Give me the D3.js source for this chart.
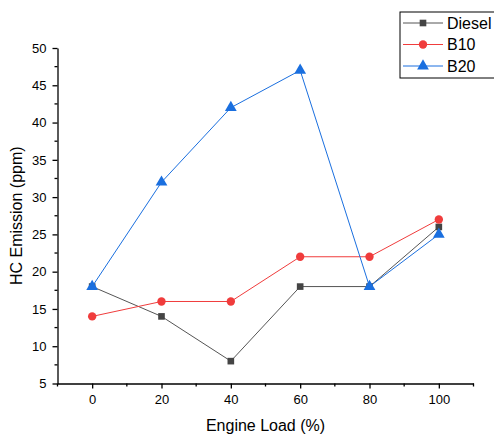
<!DOCTYPE html>
<html><head><meta charset="utf-8">
<script src="https://cdn.jsdelivr.net/npm/d3@7"></script>
<style>body{margin:0;background:#fff;}svg{display:block;font-family:"Liberation Sans",Arial,sans-serif;}</style>
</head><body>
<svg id="c" width="494" height="439"></svg>
<script>
const loads = [0, 20, 40, 60, 80, 100];
const diesel = [18, 14, 8, 18, 18, 26];
const b10 = [14, 16, 16, 22, 22, 27];
const b20 = [18, 32, 42, 47, 18, 25];
const xTicks = [0, 20, 40, 60, 80, 100];
const yTicks = [5, 10, 15, 20, 25, 30, 35, 40, 45, 50];
const seriesNames = ["Diesel", "B10", "B20"];

const svg = d3.select("#c");
const x = d3.scaleLinear().domain([-10, 110]).range([57.5, 473.5]);
const y = d3.scaleLinear().domain([5, 50]).range([383.5, 48]);

// axes
const xAxis = d3.axisBottom(x).tickValues(xTicks).tickSize(5).tickSizeOuter(0).tickPadding(6);
const gx = svg.append("g").attr("transform", `translate(0,${y(5)})`).call(xAxis);
const yAxis = d3.axisLeft(y).tickValues(yTicks).tickSize(5).tickSizeOuter(0).tickPadding(6);
const gy = svg.append("g").attr("transform", `translate(${x(-10)},0)`).call(yAxis);
[gx, gy].forEach(g => {
  g.selectAll("path.domain").attr("stroke", "#000").attr("stroke-width", 1.3);
  g.selectAll(".tick line").attr("stroke", "#000").attr("stroke-width", 1.3);
  g.selectAll("text").attr("font-size", 13).attr("fill", "#000").attr("font-family", "Liberation Sans, Arial, sans-serif");
});
// minor ticks
const xMinor = [-10, 10, 30, 50, 70, 90, 110];
svg.append("g").selectAll("line").data(xMinor).join("line")
  .attr("x1", d => x(d)).attr("x2", d => x(d)).attr("y1", y(5)).attr("y2", y(5) + 3)
  .attr("stroke", "#000").attr("stroke-width", 1.3);
const yMinor = d3.range(7.5, 50, 5);
svg.append("g").selectAll("line").data(yMinor).join("line")
  .attr("y1", d => y(d)).attr("y2", d => y(d)).attr("x1", x(-10)).attr("x2", x(-10) - 3)
  .attr("stroke", "#000").attr("stroke-width", 1.3);

// titles
svg.append("text").attr("x", (x(-10) + x(110)) / 2).attr("y", 431).attr("text-anchor", "middle")
  .attr("font-size", 16).text("Engine Load (%)");
svg.append("text").attr("transform", `translate(22,${(y(5) + y(50)) / 2}) rotate(-90)`)
  .attr("text-anchor", "middle").attr("font-size", 16).text("HC Emission (ppm)");

const series = [
  {name: seriesNames[0], vals: diesel, line: "#555555", fill: "#444444", shape: d3.symbolSquare, size: 44},
  {name: seriesNames[1], vals: b10, line: "#f03c3c", fill: "#f03c3c", shape: d3.symbolCircle, size: 55},
  {name: seriesNames[2], vals: b20, line: "#1a6fdf", fill: "#1a6fdf", shape: d3.symbolTriangle, size: 60}
];
const line = d3.line().x((d, i) => x(loads[i])).y(d => y(d));
series.forEach(s => {
  svg.append("path").datum(s.vals).attr("d", line).attr("fill", "none")
    .attr("stroke", s.line).attr("stroke-width", 1);
  svg.append("g").selectAll("path").data(s.vals).join("path")
    .attr("d", d3.symbol().type(s.shape).size(s.size))
    .attr("transform", (d, i) => `translate(${x(loads[i])},${y(d)})`)
    .attr("fill", s.fill);
});

// legend
const lg = svg.append("g").attr("transform", "translate(400,12)");
lg.append("rect").attr("x", 0).attr("y", 0).attr("width", 100).attr("height", 66)
  .attr("fill", "#fff").attr("stroke", "#000").attr("stroke-width", 1);
series.forEach((s, i) => {
  const yy = 11 + i * 21.5;
  lg.append("line").attr("x1", 3).attr("x2", 43).attr("y1", yy).attr("y2", yy)
    .attr("stroke", s.line).attr("stroke-width", 1);
  lg.append("path").attr("d", d3.symbol().type(s.shape).size(s.size)())
    .attr("transform", `translate(23,${yy})`).attr("fill", s.fill);
  lg.append("text").attr("x", 47).attr("y", yy + 5.5).attr("font-size", 16).text(s.name);
});
</script>
</body></html>
